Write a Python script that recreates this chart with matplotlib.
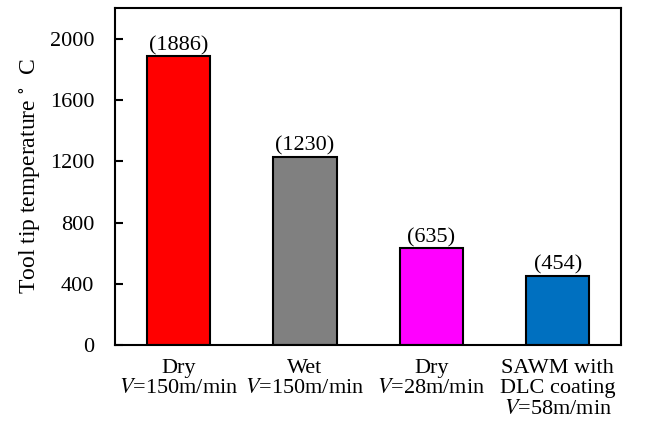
import matplotlib
matplotlib.use("Agg")
import matplotlib.pyplot as plt

categories = [
    "Dry\n$V$=150m/min",
    "Wet\n$V$=150m/min",
    "Dry\n$V$=28m/min",
    "SAWM with\nDLC coating\n$V$=58m/min",
]
temperatures = [1886, 1230, 635, 454]
colors = ["#ff0000", "#808080", "#ff00ff", "#0070c0"]
yticks = [0, 400, 800, 1200, 1600, 2000]

plt.rcParams["font.family"] = ["Liberation Serif"]
plt.rcParams["mathtext.fontset"] = "stix"
plt.rcParams["font.size"] = 16

fig = plt.figure(figsize=(6.55, 4.25), dpi=100)
ax = fig.add_axes([0.176, 0.188, 0.772, 0.793])

x = range(len(categories))
bars = ax.bar(x, temperatures, width=0.5, color=colors, edgecolor="black", linewidth=1.5)
for rect, val in zip(bars, temperatures):
    ax.text(rect.get_x() + rect.get_width() / 2, val + 5, f"({val})",
            ha="center", va="bottom")

ax.set_xlim(-0.5, len(categories) - 0.5)
ax.set_ylim(0, 2200)
ax.set_yticks(yticks)
ax.set_xticks(list(x))
ax.set_xticklabels(categories, linespacing=1.1)
ax.tick_params(axis="x", length=0, pad=10)
ax.tick_params(axis="y", direction="in", length=6, width=1.5, pad=15)
for sp in ax.spines.values():
    sp.set_linewidth(1.5)
ax.set_ylabel("Tool tip temperature $^{\\circ}$  C", fontsize=17, labelpad=6)

fig.savefig("out.png", dpi=100)
